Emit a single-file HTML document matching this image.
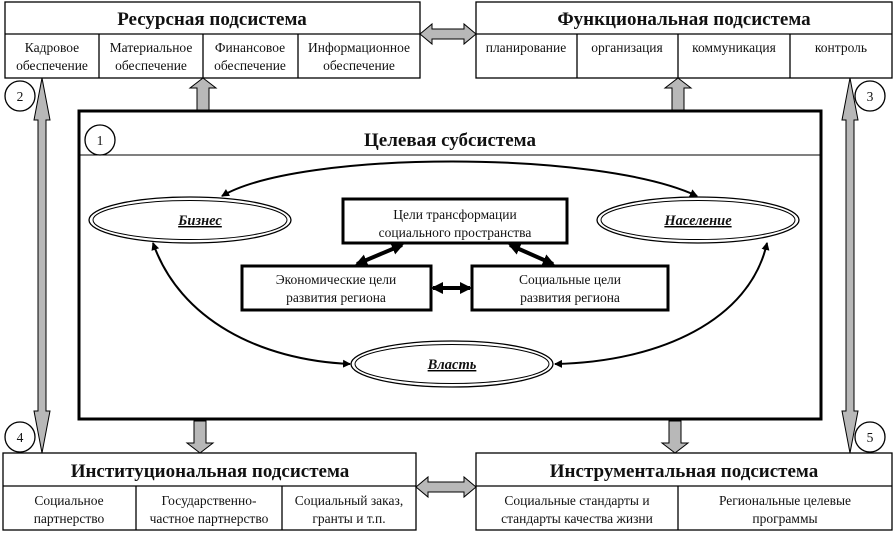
<!DOCTYPE html>
<html><head><meta charset="utf-8"><style>
body{margin:0;background:#fff;}
svg text{font-family:"Liberation Serif","DejaVu Serif",serif;fill:#111;}
</style></head><body>
<svg width="894" height="533" viewBox="0 0 894 533" xmlns="http://www.w3.org/2000/svg">
<defs>
<marker id="a" markerWidth="8" markerHeight="8" refX="7" refY="4" orient="auto-start-reverse" markerUnits="userSpaceOnUse"><path d="M0,0 L8,4 L0,8 z" fill="#000"/></marker>
<marker id="b" markerWidth="12" markerHeight="12" refX="10" refY="6" orient="auto-start-reverse" markerUnits="userSpaceOnUse"><path d="M0,0 L12,6 L0,12 z" fill="#000"/></marker>
</defs>
<g stroke="#000" fill="none" stroke-width="1.3">
<rect x="5" y="2" width="415" height="76"/><line x1="5" y1="34" x2="420" y2="34"/>
<line x1="99" y1="34" x2="99" y2="78"/><line x1="203" y1="34" x2="203" y2="78"/><line x1="298" y1="34" x2="298" y2="78"/>
<rect x="476" y="2" width="416" height="76"/><line x1="476" y1="34" x2="892" y2="34"/>
<line x1="577" y1="34" x2="577" y2="78"/><line x1="678" y1="34" x2="678" y2="78"/><line x1="790" y1="34" x2="790" y2="78"/>
<rect x="3" y="453" width="413" height="77"/><line x1="3" y1="486" x2="416" y2="486"/>
<line x1="136" y1="486" x2="136" y2="530"/><line x1="282" y1="486" x2="282" y2="530"/>
<rect x="476" y="453" width="416" height="77"/><line x1="476" y1="486" x2="892" y2="486"/>
<line x1="678" y1="486" x2="678" y2="530"/>
<circle cx="20" cy="96" r="15"/><circle cx="870" cy="96" r="15"/><circle cx="20" cy="437" r="15"/><circle cx="870" cy="437" r="15"/><circle cx="100" cy="140" r="15"/>
</g>
<g fill="#b8b8b8" stroke="#000" stroke-width="1">
<path d="M420,34 L432,24 L432,29 L464,29 L464,24 L476,34 L464,44 L464,39 L432,39 L432,44 Z"/>
<path d="M416,487 L428,477 L428,482 L464,482 L464,477 L476,487 L464,497 L464,492 L428,492 L428,497 Z"/>
<path d="M42,78 L50,120 L46,120 L46,411 L50,411 L42,453 L34,411 L38,411 L38,120 L34,120 Z"/>
<path d="M850,78 L858,120 L854,120 L854,411 L858,411 L850,453 L842,411 L846,411 L846,120 L842,120 Z"/>
<path d="M203,78 L216,88 L209,88 L209,110 L197,110 L197,88 L190,88 Z"/>
<path d="M678,78 L691,88 L684,88 L684,110 L672,110 L672,88 L665,88 Z"/>
<path d="M200,453 L187,443 L194,443 L194,421 L206,421 L206,443 L213,443 Z"/>
<path d="M675,453 L662,443 L669,443 L669,421 L681,421 L681,443 L688,443 Z"/>
</g>
<rect x="79" y="111" width="742" height="308" fill="none" stroke="#000" stroke-width="3"/>
<line x1="80" y1="155" x2="820" y2="155" stroke="#000" stroke-width="1"/>
<g fill="#fff" stroke="#000">
<ellipse cx="190" cy="220" rx="101" ry="23" stroke-width="1.3"/><ellipse cx="190" cy="220" rx="97" ry="19.5" stroke-width="1"/>
<ellipse cx="698" cy="220" rx="101" ry="23" stroke-width="1.3"/><ellipse cx="698" cy="220" rx="97" ry="19.5" stroke-width="1"/>
<ellipse cx="452" cy="364" rx="101" ry="23" stroke-width="1.3"/><ellipse cx="452" cy="364" rx="97" ry="19.5" stroke-width="1"/>
</g>
<g fill="#fff" stroke="#000" stroke-width="3">
<rect x="343" y="199" width="224" height="44"/>
<rect x="242" y="266" width="189" height="44"/>
<rect x="472" y="266" width="196" height="44"/>
</g>
<g fill="none" stroke="#000" stroke-width="2">
<path d="M222,196 C300,150 600,150 697,196" marker-start="url(#a)" marker-end="url(#a)"/>
<path d="M153,243 C180,320 260,360 350,364" marker-start="url(#a)" marker-end="url(#a)"/>
<path d="M767,243 C750,320 660,362 555,364" marker-start="url(#a)" marker-end="url(#a)"/>
</g>
<g fill="none" stroke="#000" stroke-width="4">
<path d="M402,245 L357,264" marker-start="url(#b)" marker-end="url(#b)"/>
<path d="M510,245 L553,264" marker-start="url(#b)" marker-end="url(#b)"/>
<path d="M433,288 L470,288" marker-start="url(#b)" marker-end="url(#b)"/>
</g>
<g text-anchor="middle" font-size="13.5">
<text x="212" y="25" font-size="19" font-weight="bold">Ресурсная подсистема</text>
<text x="684" y="25" font-size="19" font-weight="bold">Функциональная подсистема</text>
<text x="210" y="477" font-size="19" font-weight="bold">Институциональная подсистема</text>
<text x="684" y="477" font-size="19" font-weight="bold">Инструментальная подсистема</text>
<text x="450" y="146" font-size="19" font-weight="bold">Целевая субсистема</text>
<text x="52" y="52">Кадровое</text><text x="52" y="70">обеспечение</text>
<text x="151" y="52">Материальное</text><text x="151" y="70">обеспечение</text>
<text x="250" y="52">Финансовое</text><text x="250" y="70">обеспечение</text>
<text x="359" y="52">Информационное</text><text x="359" y="70">обеспечение</text>
<text x="526" y="52">планирование</text>
<text x="627" y="52">организация</text>
<text x="734" y="52">коммуникация</text>
<text x="841" y="52">контроль</text>
<text x="69" y="505">Социальное</text><text x="69" y="523">партнерство</text>
<text x="209" y="505">Государственно-</text><text x="209" y="523">частное партнерство</text>
<text x="349" y="505">Социальный заказ,</text><text x="349" y="523">гранты и т.п.</text>
<text x="577" y="505">Социальные стандарты и</text><text x="577" y="523">стандарты качества жизни</text>
<text x="785" y="505">Региональные целевые</text><text x="785" y="523">программы</text>
<text x="455" y="219">Цели трансформации</text><text x="455" y="237">социального пространства</text>
<text x="336" y="284">Экономические цели</text><text x="336" y="302">развития региона</text>
<text x="570" y="284">Социальные цели</text><text x="570" y="302">развития региона</text>
<text x="20" y="101">2</text><text x="870" y="101">3</text><text x="20" y="442">4</text><text x="870" y="442">5</text><text x="100" y="145">1</text>
<g font-style="italic" font-weight="bold" text-decoration="underline" font-size="14.5">
<text x="200" y="225">Бизнес</text>
<text x="698" y="225">Население</text>
<text x="452" y="369">Власть</text>
</g>
</g>
</svg>
</body></html>
